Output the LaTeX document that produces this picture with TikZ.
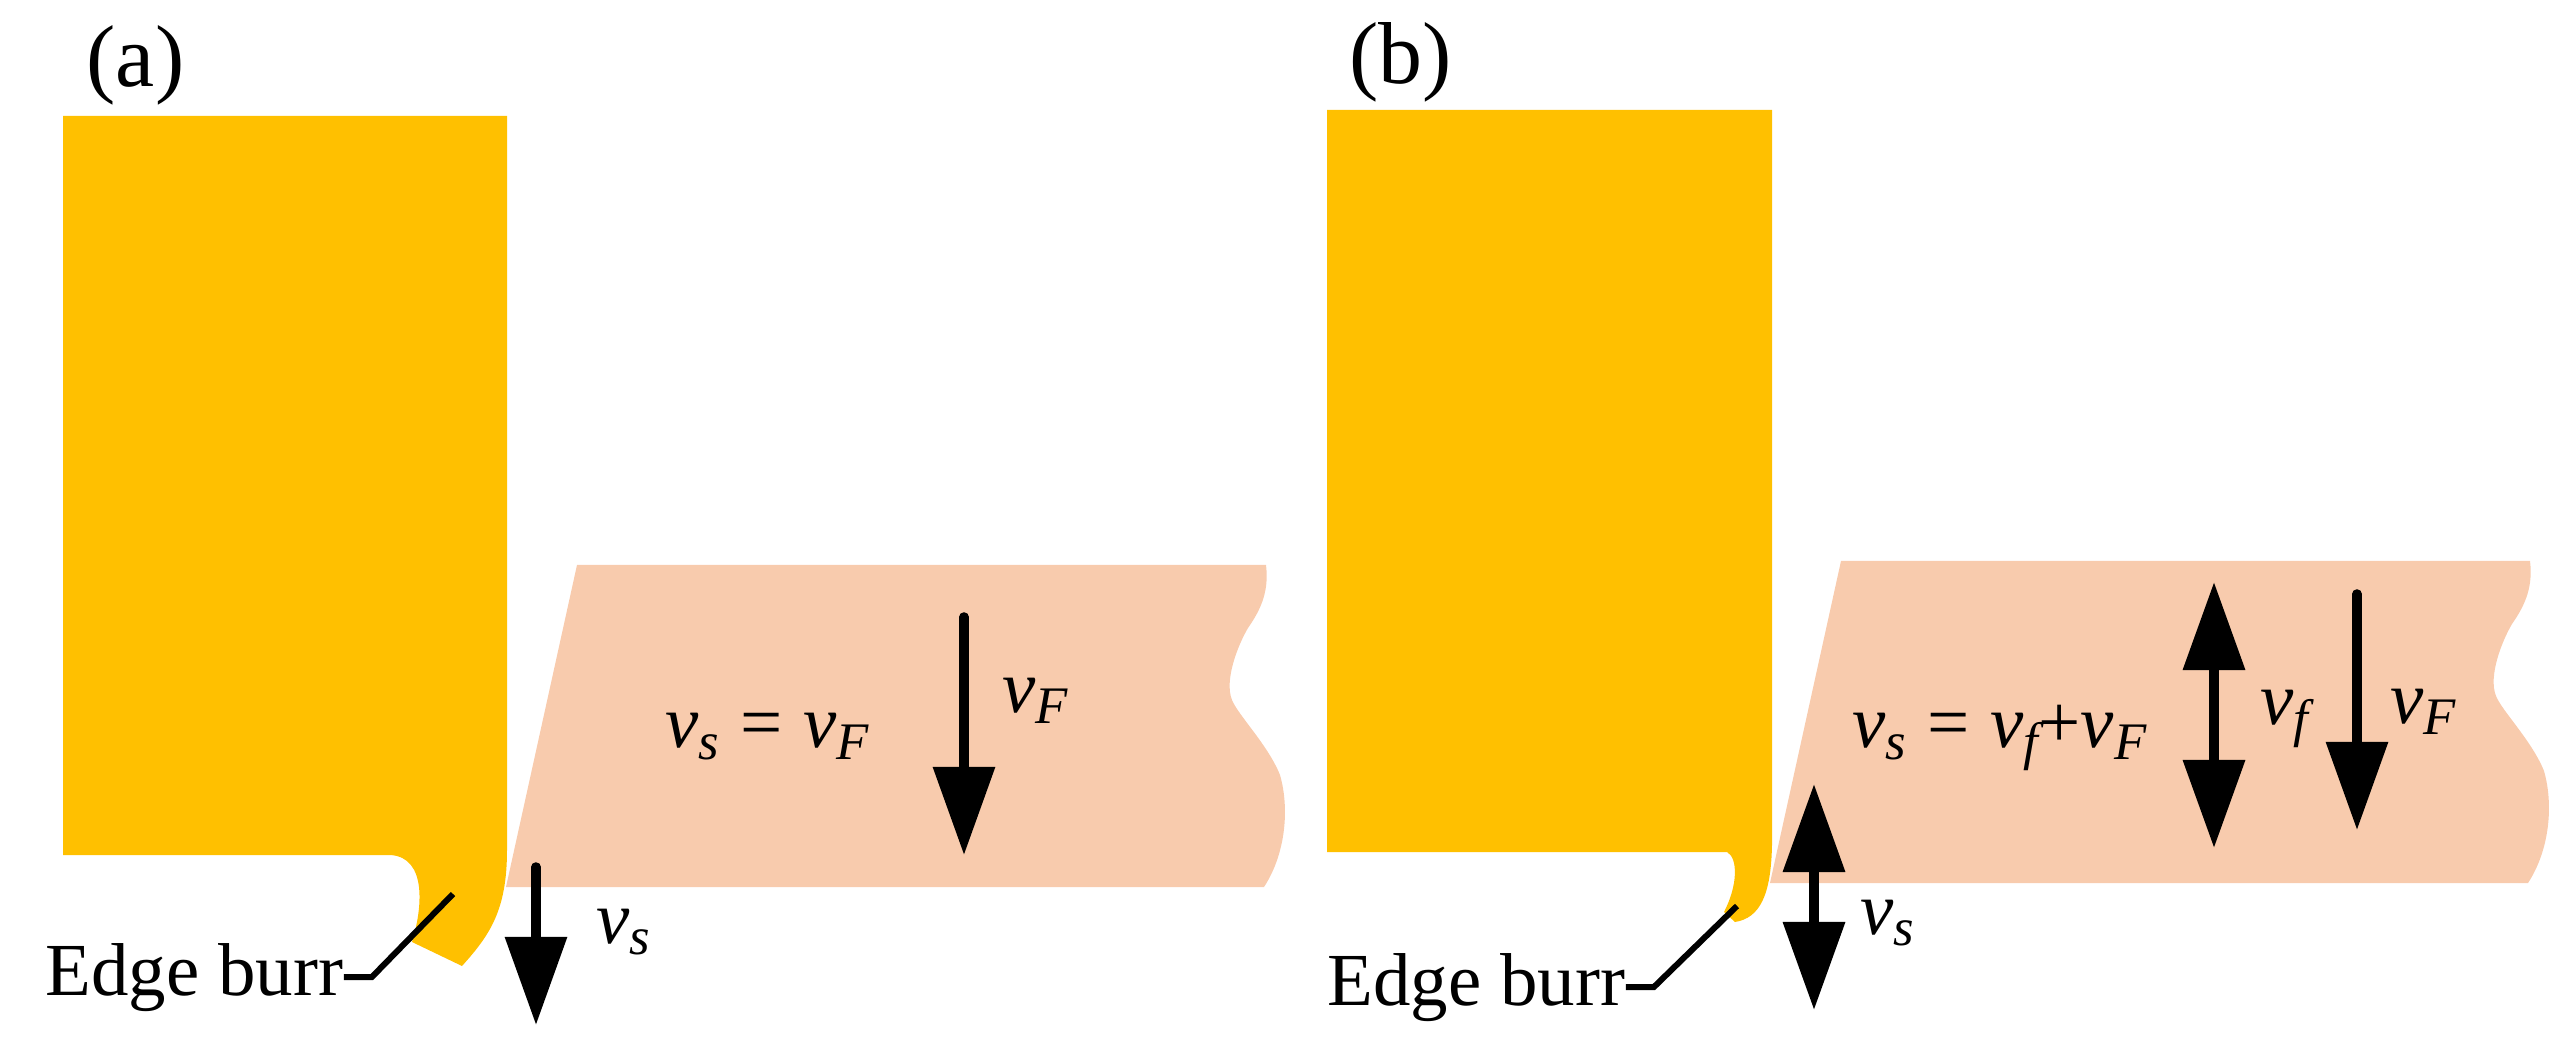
\documentclass[tikz,border=0pt]{standalone}
\usepackage{fontspec}
\setmainfont{Liberation Serif}
\usetikzlibrary{arrows.meta}
\definecolor{toolcolor}{RGB}{255,192,0}
\definecolor{workcolor}{RGB}{248,203,173}
\newcommand{\vsub}[1]{\raisebox{-0.16em}{\fontsize{15}{18}\selectfont\itshape #1}}
\newcommand{\velo}[1]{\textit{v}\vsub{#1}}

\begin{document}
\begin{tikzpicture}[
    x=0.01cm, y=-0.01cm,
    txt/.style={anchor=base west, inner sep=0pt, font=\fontsize{21.3}{25}\selectfont},
    panel/.style={anchor=base west, inner sep=0pt, font=\fontsize{25}{30}\selectfont},
    tool/.style={fill=toolcolor},
    work/.style={fill=workcolor},
    vel/.style={line width=0.095cm, line cap=round, -{Triangle[length=0.88cm, width=0.6cm]}},
    velboth/.style={line width=0.1cm, {Triangle[length=0.88cm, width=0.6cm]}-{Triangle[length=0.88cm, width=0.6cm]}},
    leader/.style={line width=0.06cm}
]
    \useasboundingbox (0,0) rectangle (2575,1055);

    % (a) workpiece and tool
    \fill[work] (577,565) -- (1266,565) .. controls (1269,590) and (1262,608) .. (1248,628) .. controls (1238,645) and (1224,680) .. (1232,700) .. controls (1238,715) and (1268,745) .. (1280,775) .. controls (1290,810) and (1285,855) .. (1264,887) -- (506,887) -- cycle;
    \fill[tool] (63,116) -- (507,116) -- (507,850) .. controls (507,910) and (490,935) .. (462,966) -- (412,942) .. controls (422,910) and (428,857) .. (390,855) -- (63,855) -- cycle;

    \node[panel] (labA) at (86,87) {(a)};
    \node[txt] (eqA) at (665,748) {\velo{s}\hspace{0.28em}=\hspace{0.28em}\velo{F}};
    \node[txt] (vFLabA) at (1002,712) {\velo{F}};
    \node[txt] (vsLabA) at (596,943) {\velo{s}};
    \node[txt] (burrA) at (45,995) {Edge burr};

    \coordinate (vFA1) at (964,617);
    \coordinate (vFA2) at (964,855);
    \coordinate (vsA1) at (536,867);
    \coordinate (vsA2) at (536,1025);
    \coordinate (tipA) at (453,894);
    \draw[vel] (vFA1) -- (vFA2);
    \draw[vel] (vsA1) -- (vsA2);
    \draw[leader] (burrA.east) -- ++(28,0) -- (tipA);

    % (b) workpiece and tool
    \fill[work, shift={(1264,-4)}] (577,565) -- (1266,565) .. controls (1269,590) and (1262,608) .. (1248,628) .. controls (1238,645) and (1224,680) .. (1232,700) .. controls (1238,715) and (1268,745) .. (1280,775) .. controls (1290,810) and (1285,855) .. (1264,887) -- (506,887) -- cycle;
    \fill[tool] (1327,110) -- (1772,110) -- (1772,845) .. controls (1771,895) and (1760,918) .. (1735,922) -- (1724,912) .. controls (1738,885) and (1738,858) .. (1727,852) -- (1327,852) -- cycle;

    \node[panel] (labB) at (1349,84) {(b)};
    \node[txt] (eqB) at (1852,748) {\velo{s}\hspace{0.28em}=\hspace{0.28em}\velo{f}+\velo{F}};
    \node[txt] (vfLabB) at (2260,725) {\velo{f}};
    \node[txt] (vFLabB) at (2390,723) {\velo{F}};
    \node[txt] (vsLabB) at (1860,934) {\velo{s}};
    \node[txt] (burrB) at (1327,1005) {Edge burr};

    \coordinate (vfB1) at (2214,582);
    \coordinate (vfB2) at (2214,848);
    \coordinate (vFB1) at (2357,594);
    \coordinate (vFB2) at (2357,830);
    \coordinate (vsB1) at (1814,784);
    \coordinate (vsB2) at (1814,1010);
    \coordinate (tipB) at (1737,906);
    \draw[velboth] (vfB1) -- (vfB2);
    \draw[vel] (vFB1) -- (vFB2);
    \draw[velboth] (vsB1) -- (vsB2);
    \draw[leader] (burrB.east) -- ++(28,0) -- (tipB);
\end{tikzpicture}
\end{document}
